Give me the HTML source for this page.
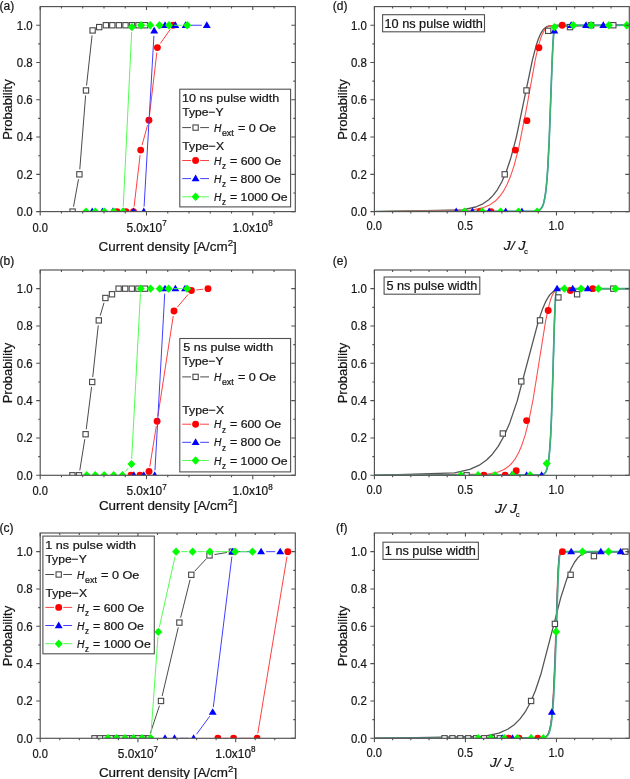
<!DOCTYPE html><html><head><meta charset="utf-8"><title>Switching probability</title><style>
html,body{margin:0;padding:0;background:#fff;}svg{display:block;will-change:transform;}
text{font-family:'Liberation Sans', sans-serif;fill:#151515;stroke:#151515;stroke-width:0.22px;}
</style></head><body>
<svg width="630" height="779" viewBox="0 0 630 779">
<rect width="630" height="779" fill="#fff"/>
<defs>
<clipPath id="ca"><rect x="40.2" y="6.1" width="255.1" height="205.5"/></clipPath>
<clipPath id="cb"><rect x="40.2" y="269.5" width="255.1" height="205.8"/></clipPath>
<clipPath id="cc"><rect x="40.2" y="532.5" width="255.1" height="205.8"/></clipPath>
<clipPath id="cd"><rect x="374.4" y="6.1" width="254.9" height="205.5"/></clipPath>
<clipPath id="ce"><rect x="374.4" y="269.5" width="254.9" height="205.8"/></clipPath>
<clipPath id="cf"><rect x="374.4" y="532.5" width="254.9" height="205.8"/></clipPath>
</defs>
<g clip-path="url(#ca)">
<path d="M73.5 206.68L78.5 179.25M79.79 169.34L85.61 95.45M86.55 85.49L92.05 35.42" stroke="#4a4a4a" stroke-width="1.0" fill="none"/><rect x="69.95" y="208.95" width="5.3" height="5.3" fill="#fff" stroke="#474747" stroke-width="1.1"/><rect x="76.75" y="171.68" width="5.3" height="5.3" fill="#fff" stroke="#474747" stroke-width="1.1"/><rect x="83.35" y="87.81" width="5.3" height="5.3" fill="#fff" stroke="#474747" stroke-width="1.1"/><rect x="89.95" y="27.8" width="5.3" height="5.3" fill="#fff" stroke="#474747" stroke-width="1.1"/><rect x="96.55" y="24.45" width="5.3" height="5.3" fill="#fff" stroke="#474747" stroke-width="1.1"/><rect x="103.25" y="22.59" width="5.3" height="5.3" fill="#fff" stroke="#474747" stroke-width="1.1"/><rect x="109.65" y="22.59" width="5.3" height="5.3" fill="#fff" stroke="#474747" stroke-width="1.1"/><rect x="116.25" y="22.59" width="5.3" height="5.3" fill="#fff" stroke="#474747" stroke-width="1.1"/><rect x="122.85" y="22.59" width="5.3" height="5.3" fill="#fff" stroke="#474747" stroke-width="1.1"/><rect x="129.35" y="22.59" width="5.3" height="5.3" fill="#fff" stroke="#474747" stroke-width="1.1"/><rect x="135.85" y="22.59" width="5.3" height="5.3" fill="#fff" stroke="#474747" stroke-width="1.1"/><rect x="142.35" y="22.59" width="5.3" height="5.3" fill="#fff" stroke="#474747" stroke-width="1.1"/>
<path d="M134.08 206.63L140.12 155.07M142.03 145.28L147.57 125.1M149.48 115.32L156.82 52.57M160.29 43.52L170.31 29.32" stroke="#ff4040" stroke-width="1.0" fill="none"/><circle cx="117" cy="211.6" r="3.45" fill="#ff0000"/><circle cx="126" cy="211.6" r="3.45" fill="#ff0000"/><circle cx="133.5" cy="211.6" r="3.45" fill="#ff0000"/><circle cx="140.7" cy="150.1" r="3.45" fill="#ff0000"/><circle cx="148.9" cy="120.28" r="3.45" fill="#ff0000"/><circle cx="157.4" cy="47.6" r="3.45" fill="#ff0000"/><circle cx="173.2" cy="25.24" r="3.45" fill="#ff0000"/>
<path d="M144.09 206.61L153.91 35.82M158.64 28.53L160.56 27.54M190.6 25.24L201.8 25.24" stroke="#4040ff" stroke-width="1.0" fill="none"/><path d="M92.2 207.6L96.15 214.3L88.25 214.3Z" fill="#0000ff"/><path d="M102.5 207.6L106.45 214.3L98.55 214.3Z" fill="#0000ff"/><path d="M112.8 207.6L116.75 214.3L108.85 214.3Z" fill="#0000ff"/><path d="M123.1 207.6L127.05 214.3L119.15 214.3Z" fill="#0000ff"/><path d="M133.5 207.6L137.45 214.3L129.55 214.3Z" fill="#0000ff"/><path d="M143.8 207.6L147.75 214.3L139.85 214.3Z" fill="#0000ff"/><path d="M154.2 26.83L158.15 33.53L150.25 33.53Z" fill="#0000ff"/><path d="M165 21.24L168.95 27.94L161.05 27.94Z" fill="#0000ff"/><path d="M175.3 21.24L179.25 27.94L171.35 27.94Z" fill="#0000ff"/><path d="M185.6 21.24L189.55 27.94L181.65 27.94Z" fill="#0000ff"/><path d="M206.8 21.24L210.75 27.94L202.85 27.94Z" fill="#0000ff"/>
<path d="M123.24 206.61L131.66 32.09M174 25.24L182.2 25.24" stroke="#50ff50" stroke-width="1.0" fill="none"/><path d="M86 207.4L90.05 211.6L86 215.8L81.95 211.6Z" fill="#00ff00"/><path d="M95.3 207.4L99.35 211.6L95.3 215.8L91.25 211.6Z" fill="#00ff00"/><path d="M104.4 207.4L108.45 211.6L104.4 215.8L100.35 211.6Z" fill="#00ff00"/><path d="M113.8 207.4L117.85 211.6L113.8 215.8L109.75 211.6Z" fill="#00ff00"/><path d="M123 207.4L127.05 211.6L123 215.8L118.95 211.6Z" fill="#00ff00"/><path d="M131.9 22.9L135.95 27.1L131.9 31.3L127.85 27.1Z" fill="#00ff00"/><path d="M141.1 21.04L145.15 25.24L141.1 29.44L137.05 25.24Z" fill="#00ff00"/><path d="M150.2 21.04L154.25 25.24L150.2 29.44L146.15 25.24Z" fill="#00ff00"/><path d="M159.5 21.04L163.55 25.24L159.5 29.44L155.45 25.24Z" fill="#00ff00"/><path d="M169 21.04L173.05 25.24L169 29.44L164.95 25.24Z" fill="#00ff00"/><path d="M187.2 21.04L191.25 25.24L187.2 29.44L183.15 25.24Z" fill="#00ff00"/>
</g>
<rect x="40.2" y="6.6" width="255.1" height="205" fill="none" stroke="#505050" stroke-width="1.15"/>
<path d="M36.2 211.6H40.2M291.3 211.6H295.3M36.2 174.33H40.2M291.3 174.33H295.3M36.2 137.05H40.2M291.3 137.05H295.3M36.2 99.78H40.2M291.3 99.78H295.3M36.2 62.51H40.2M291.3 62.51H295.3M36.2 25.24H40.2M291.3 25.24H295.3M38.2 192.96H40.2M293.3 192.96H295.3M38.2 155.69H40.2M293.3 155.69H295.3M38.2 118.42H40.2M293.3 118.42H295.3M38.2 81.15H40.2M293.3 81.15H295.3M38.2 43.87H40.2M293.3 43.87H295.3M40.2 211.6V215.6M40.2 6.6V10.1M146.49 211.6V215.6M146.49 6.6V10.1M252.78 211.6V215.6M252.78 6.6V10.1M61.46 211.6V213.6M61.46 6.6V8.6M82.72 211.6V213.6M82.72 6.6V8.6M103.98 211.6V213.6M103.98 6.6V8.6M125.23 211.6V213.6M125.23 6.6V8.6M167.75 211.6V213.6M167.75 6.6V8.6M189.01 211.6V213.6M189.01 6.6V8.6M210.27 211.6V213.6M210.27 6.6V8.6M231.53 211.6V213.6M231.53 6.6V8.6M274.04 211.6V213.6M274.04 6.6V8.6" stroke="#505050" stroke-width="1.1" fill="none"/>
<text x="16.8" y="215.9" font-size="12.8" textLength="15.92" lengthAdjust="spacingAndGlyphs" style="">0.0</text>
<text x="16.8" y="178.63" font-size="12.8" textLength="15.92" lengthAdjust="spacingAndGlyphs" style="">0.2</text>
<text x="16.8" y="141.35" font-size="12.8" textLength="15.92" lengthAdjust="spacingAndGlyphs" style="">0.4</text>
<text x="16.8" y="104.08" font-size="12.8" textLength="15.92" lengthAdjust="spacingAndGlyphs" style="">0.6</text>
<text x="16.8" y="66.81" font-size="12.8" textLength="15.92" lengthAdjust="spacingAndGlyphs" style="">0.8</text>
<text x="16.81" y="29.54" font-size="12.8" textLength="15.91" lengthAdjust="spacingAndGlyphs" style="">1.0</text>
<text x="32.4" y="231.5" font-size="12.8" textLength="15.42" lengthAdjust="spacingAndGlyphs" style="">0.0</text>
<text x="126.39" y="231.5" font-size="12.5" textLength="40.25" lengthAdjust="spacingAndGlyphs" style="">5.0x10<tspan dy="-5.2" font-size="8.5">7</tspan></text>
<text x="232.43" y="231.5" font-size="12.5" textLength="40.2" lengthAdjust="spacingAndGlyphs" style="">1.0x10<tspan dy="-5.2" font-size="8.5">8</tspan></text>
<text x="98.6" y="251" font-size="12.5" textLength="138.24" lengthAdjust="spacingAndGlyphs" style="">Current density [A/cm<tspan dy="-5" font-size="9">2</tspan><tspan dy="5">]</tspan></text>
<text transform="translate(12.3 0) rotate(-90)" x="-139.74" y="0" font-size="12.5" textLength="60.42" lengthAdjust="spacingAndGlyphs" style="">Probability</text>
<g clip-path="url(#cb)">
<path d="M79.79 470.36L84.81 439.18M86.23 429.28L91.57 386.94M92.73 377.01L98.27 325.36M100.21 315.6L103.99 302.79" stroke="#4a4a4a" stroke-width="1.0" fill="none"/><rect x="69.75" y="472.65" width="5.3" height="5.3" fill="#fff" stroke="#474747" stroke-width="1.1"/><rect x="76.35" y="472.65" width="5.3" height="5.3" fill="#fff" stroke="#474747" stroke-width="1.1"/><rect x="82.95" y="431.59" width="5.3" height="5.3" fill="#fff" stroke="#474747" stroke-width="1.1"/><rect x="89.55" y="379.33" width="5.3" height="5.3" fill="#fff" stroke="#474747" stroke-width="1.1"/><rect x="96.15" y="317.74" width="5.3" height="5.3" fill="#fff" stroke="#474747" stroke-width="1.1"/><rect x="102.75" y="295.35" width="5.3" height="5.3" fill="#fff" stroke="#474747" stroke-width="1.1"/><rect x="109.35" y="291.61" width="5.3" height="5.3" fill="#fff" stroke="#474747" stroke-width="1.1"/><rect x="115.95" y="286.01" width="5.3" height="5.3" fill="#fff" stroke="#474747" stroke-width="1.1"/><rect x="122.55" y="286.01" width="5.3" height="5.3" fill="#fff" stroke="#474747" stroke-width="1.1"/><rect x="129.15" y="286.01" width="5.3" height="5.3" fill="#fff" stroke="#474747" stroke-width="1.1"/><rect x="135.75" y="286.01" width="5.3" height="5.3" fill="#fff" stroke="#474747" stroke-width="1.1"/><rect x="142.35" y="286.01" width="5.3" height="5.3" fill="#fff" stroke="#474747" stroke-width="1.1"/>
<path d="M149.79 466.63L156.31 426.11M157.86 416.23L173.24 316M177.23 307.25L188.17 294.34M196.37 289.97L203.03 289.22" stroke="#ff4040" stroke-width="1.0" fill="none"/><circle cx="131" cy="475.3" r="3.45" fill="#ff0000"/><circle cx="140" cy="475.3" r="3.45" fill="#ff0000"/><circle cx="149" cy="471.57" r="3.45" fill="#ff0000"/><circle cx="157.1" cy="421.18" r="3.45" fill="#ff0000"/><circle cx="174" cy="311.06" r="3.45" fill="#ff0000"/><circle cx="191.4" cy="290.53" r="3.45" fill="#ff0000"/><circle cx="208" cy="288.66" r="3.45" fill="#ff0000"/>
<path d="M148.8 475.3L149.7 475.3M154.98 470.31L164.72 293.66" stroke="#4040ff" stroke-width="1.0" fill="none"/><path d="M133.9 471.3L137.85 478L129.95 478Z" fill="#0000ff"/><path d="M143.8 471.3L147.75 478L139.85 478Z" fill="#0000ff"/><path d="M154.7 471.3L158.65 478L150.75 478Z" fill="#0000ff"/><path d="M165 284.66L168.95 291.36L161.05 291.36Z" fill="#0000ff"/><path d="M175.4 284.66L179.35 291.36L171.45 291.36Z" fill="#0000ff"/><path d="M185 284.66L188.95 291.36L181.05 291.36Z" fill="#0000ff"/>
<path d="M125.61 471.39L128.29 468.02M131.66 459.11L140.44 293.66M173.6 288.66L182.1 288.66" stroke="#50ff50" stroke-width="1.0" fill="none"/><path d="M86.7 471.1L90.75 475.3L86.7 479.5L82.65 475.3Z" fill="#00ff00"/><path d="M95.2 471.1L99.25 475.3L95.2 479.5L91.15 475.3Z" fill="#00ff00"/><path d="M104.2 471.1L108.25 475.3L104.2 479.5L100.15 475.3Z" fill="#00ff00"/><path d="M113.7 471.1L117.75 475.3L113.7 479.5L109.65 475.3Z" fill="#00ff00"/><path d="M122.5 471.1L126.55 475.3L122.5 479.5L118.45 475.3Z" fill="#00ff00"/><path d="M131.4 459.9L135.45 464.1L131.4 468.3L127.35 464.1Z" fill="#00ff00"/><path d="M140.7 284.46L144.75 288.66L140.7 292.86L136.65 288.66Z" fill="#00ff00"/><path d="M150.5 284.46L154.55 288.66L150.5 292.86L146.45 288.66Z" fill="#00ff00"/><path d="M159.7 284.46L163.75 288.66L159.7 292.86L155.65 288.66Z" fill="#00ff00"/><path d="M168.6 284.46L172.65 288.66L168.6 292.86L164.55 288.66Z" fill="#00ff00"/><path d="M187.1 284.46L191.15 288.66L187.1 292.86L183.05 288.66Z" fill="#00ff00"/>
</g>
<rect x="40.2" y="270" width="255.1" height="205.3" fill="none" stroke="#505050" stroke-width="1.15"/>
<path d="M36.2 475.3H40.2M291.3 475.3H295.3M36.2 437.97H40.2M291.3 437.97H295.3M36.2 400.65H40.2M291.3 400.65H295.3M36.2 363.32H40.2M291.3 363.32H295.3M36.2 325.99H40.2M291.3 325.99H295.3M36.2 288.66H40.2M291.3 288.66H295.3M38.2 456.64H40.2M293.3 456.64H295.3M38.2 419.31H40.2M293.3 419.31H295.3M38.2 381.98H40.2M293.3 381.98H295.3M38.2 344.65H40.2M293.3 344.65H295.3M38.2 307.33H40.2M293.3 307.33H295.3M40.2 475.3V479.3M40.2 270V273.5M146.49 475.3V479.3M146.49 270V273.5M252.78 475.3V479.3M252.78 270V273.5M61.46 475.3V477.3M61.46 270V272M82.72 475.3V477.3M82.72 270V272M103.98 475.3V477.3M103.98 270V272M125.23 475.3V477.3M125.23 270V272M167.75 475.3V477.3M167.75 270V272M189.01 475.3V477.3M189.01 270V272M210.27 475.3V477.3M210.27 270V272M231.53 475.3V477.3M231.53 270V272M274.04 475.3V477.3M274.04 270V272" stroke="#505050" stroke-width="1.1" fill="none"/>
<text x="16.8" y="479.6" font-size="12.8" textLength="15.92" lengthAdjust="spacingAndGlyphs" style="">0.0</text>
<text x="16.8" y="442.27" font-size="12.8" textLength="15.92" lengthAdjust="spacingAndGlyphs" style="">0.2</text>
<text x="16.8" y="404.95" font-size="12.8" textLength="15.92" lengthAdjust="spacingAndGlyphs" style="">0.4</text>
<text x="16.8" y="367.62" font-size="12.8" textLength="15.92" lengthAdjust="spacingAndGlyphs" style="">0.6</text>
<text x="16.8" y="330.29" font-size="12.8" textLength="15.92" lengthAdjust="spacingAndGlyphs" style="">0.8</text>
<text x="16.81" y="292.96" font-size="12.8" textLength="15.91" lengthAdjust="spacingAndGlyphs" style="">1.0</text>
<text x="32.4" y="494.8" font-size="12.8" textLength="15.42" lengthAdjust="spacingAndGlyphs" style="">0.0</text>
<text x="126.39" y="494.8" font-size="12.5" textLength="40.25" lengthAdjust="spacingAndGlyphs" style="">5.0x10<tspan dy="-5.2" font-size="8.5">7</tspan></text>
<text x="232.43" y="494.8" font-size="12.5" textLength="40.2" lengthAdjust="spacingAndGlyphs" style="">1.0x10<tspan dy="-5.2" font-size="8.5">8</tspan></text>
<text x="98.9" y="510.1" font-size="12.5" textLength="138.24" lengthAdjust="spacingAndGlyphs" style="">Current density [A/cm<tspan dy="-5" font-size="9">2</tspan><tspan dy="5">]</tspan></text>
<text transform="translate(12.3 0) rotate(-90)" x="-403.29" y="0" font-size="12.5" textLength="60.42" lengthAdjust="spacingAndGlyphs" style="">Probability</text>
<g clip-path="url(#cc)">
<path d="M150.26 733.55L159.44 705.72M162.14 696.11L178.26 627.45M180.61 617.73L190.09 579.66M194.72 571.16L206.08 559.04M214.43 554.57L226.97 552.49" stroke="#4a4a4a" stroke-width="1.0" fill="none"/><rect x="91.85" y="735.65" width="5.3" height="5.3" fill="#fff" stroke="#474747" stroke-width="1.1"/><rect x="97.25" y="735.65" width="5.3" height="5.3" fill="#fff" stroke="#474747" stroke-width="1.1"/><rect x="102.65" y="735.65" width="5.3" height="5.3" fill="#fff" stroke="#474747" stroke-width="1.1"/><rect x="108.05" y="735.65" width="5.3" height="5.3" fill="#fff" stroke="#474747" stroke-width="1.1"/><rect x="113.45" y="735.65" width="5.3" height="5.3" fill="#fff" stroke="#474747" stroke-width="1.1"/><rect x="118.85" y="735.65" width="5.3" height="5.3" fill="#fff" stroke="#474747" stroke-width="1.1"/><rect x="124.35" y="735.65" width="5.3" height="5.3" fill="#fff" stroke="#474747" stroke-width="1.1"/><rect x="129.75" y="735.65" width="5.3" height="5.3" fill="#fff" stroke="#474747" stroke-width="1.1"/><rect x="135.15" y="735.65" width="5.3" height="5.3" fill="#fff" stroke="#474747" stroke-width="1.1"/><rect x="140.55" y="735.65" width="5.3" height="5.3" fill="#fff" stroke="#474747" stroke-width="1.1"/><rect x="146.05" y="735.65" width="5.3" height="5.3" fill="#fff" stroke="#474747" stroke-width="1.1"/><rect x="158.35" y="698.32" width="5.3" height="5.3" fill="#fff" stroke="#474747" stroke-width="1.1"/><rect x="176.75" y="619.94" width="5.3" height="5.3" fill="#fff" stroke="#474747" stroke-width="1.1"/><rect x="188.65" y="572.16" width="5.3" height="5.3" fill="#fff" stroke="#474747" stroke-width="1.1"/><rect x="206.85" y="552.75" width="5.3" height="5.3" fill="#fff" stroke="#474747" stroke-width="1.1"/><rect x="229.25" y="549.01" width="5.3" height="5.3" fill="#fff" stroke="#474747" stroke-width="1.1"/>
<path d="M222.9 738.3L228.6 738.3M238.6 738.3L252 738.3M257.81 733.37L286.99 556.6" stroke="#ff4040" stroke-width="1.0" fill="none"/><circle cx="217.9" cy="738.3" r="3.45" fill="#ff0000"/><circle cx="233.6" cy="738.3" r="3.45" fill="#ff0000"/><circle cx="257" cy="738.3" r="3.45" fill="#ff0000"/><circle cx="287.8" cy="551.66" r="3.45" fill="#ff0000"/>
<path d="M179.5 738.3L188.6 738.3M196.55 734.26L209.75 716.21M213.31 707.21L231.89 556.63M237.5 551.66L256.1 551.66M266.1 551.66L275.2 551.66" stroke="#4040ff" stroke-width="1.0" fill="none"/><path d="M165 734.3L168.95 741L161.05 741Z" fill="#0000ff"/><path d="M174.5 734.3L178.45 741L170.55 741Z" fill="#0000ff"/><path d="M193.6 734.3L197.55 741L189.65 741Z" fill="#0000ff"/><path d="M212.7 708.17L216.65 714.87L208.75 714.87Z" fill="#0000ff"/><path d="M232.5 547.66L236.45 554.36L228.55 554.36Z" fill="#0000ff"/><path d="M261.1 547.66L265.05 554.36L257.15 554.36Z" fill="#0000ff"/><path d="M280.2 547.66L284.15 554.36L276.25 554.36Z" fill="#0000ff"/>
<path d="M151.06 733.31L157.94 636.9M159.38 627.04L175.02 556.55M181.1 551.66L187.6 551.66M197.6 551.66L204.8 551.66M214.8 551.66L230.2 551.66M240.2 551.66L247.4 551.66" stroke="#50ff50" stroke-width="1.0" fill="none"/><path d="M107.9 734.1L111.95 738.3L107.9 742.5L103.85 738.3Z" fill="#00ff00"/><path d="M116.4 734.1L120.45 738.3L116.4 742.5L112.35 738.3Z" fill="#00ff00"/><path d="M125 734.1L129.05 738.3L125 742.5L120.95 738.3Z" fill="#00ff00"/><path d="M133.6 734.1L137.65 738.3L133.6 742.5L129.55 738.3Z" fill="#00ff00"/><path d="M142.1 734.1L146.15 738.3L142.1 742.5L138.05 738.3Z" fill="#00ff00"/><path d="M150.7 734.1L154.75 738.3L150.7 742.5L146.65 738.3Z" fill="#00ff00"/><path d="M158.3 627.72L162.35 631.92L158.3 636.12L154.25 631.92Z" fill="#00ff00"/><path d="M176.1 547.46L180.15 551.66L176.1 555.86L172.05 551.66Z" fill="#00ff00"/><path d="M192.6 547.46L196.65 551.66L192.6 555.86L188.55 551.66Z" fill="#00ff00"/><path d="M209.8 547.46L213.85 551.66L209.8 555.86L205.75 551.66Z" fill="#00ff00"/><path d="M235.2 547.46L239.25 551.66L235.2 555.86L231.15 551.66Z" fill="#00ff00"/><path d="M252.4 547.46L256.45 551.66L252.4 555.86L248.35 551.66Z" fill="#00ff00"/>
</g>
<rect x="40.2" y="533" width="255.1" height="205.3" fill="none" stroke="#505050" stroke-width="1.15"/>
<path d="M36.2 738.3H40.2M291.3 738.3H295.3M36.2 700.97H40.2M291.3 700.97H295.3M36.2 663.65H40.2M291.3 663.65H295.3M36.2 626.32H40.2M291.3 626.32H295.3M36.2 588.99H40.2M291.3 588.99H295.3M36.2 551.66H40.2M291.3 551.66H295.3M38.2 719.64H40.2M293.3 719.64H295.3M38.2 682.31H40.2M293.3 682.31H295.3M38.2 644.98H40.2M293.3 644.98H295.3M38.2 607.65H40.2M293.3 607.65H295.3M38.2 570.33H40.2M293.3 570.33H295.3M40.2 738.3V742.3M40.2 533V536.5M137.94 738.3V742.3M137.94 533V536.5M235.68 738.3V742.3M235.68 533V536.5M59.75 738.3V740.3M59.75 533V535M79.3 738.3V740.3M79.3 533V535M98.84 738.3V740.3M98.84 533V535M118.39 738.3V740.3M118.39 533V535M157.49 738.3V740.3M157.49 533V535M177.04 738.3V740.3M177.04 533V535M196.58 738.3V740.3M196.58 533V535M216.13 738.3V740.3M216.13 533V535M255.23 738.3V740.3M255.23 533V535M274.77 738.3V740.3M274.77 533V535" stroke="#505050" stroke-width="1.1" fill="none"/>
<text x="16.8" y="742.6" font-size="12.8" textLength="15.92" lengthAdjust="spacingAndGlyphs" style="">0.0</text>
<text x="16.8" y="705.27" font-size="12.8" textLength="15.92" lengthAdjust="spacingAndGlyphs" style="">0.2</text>
<text x="16.8" y="667.95" font-size="12.8" textLength="15.92" lengthAdjust="spacingAndGlyphs" style="">0.4</text>
<text x="16.8" y="630.62" font-size="12.8" textLength="15.92" lengthAdjust="spacingAndGlyphs" style="">0.6</text>
<text x="16.8" y="593.29" font-size="12.8" textLength="15.92" lengthAdjust="spacingAndGlyphs" style="">0.8</text>
<text x="16.81" y="555.96" font-size="12.8" textLength="15.91" lengthAdjust="spacingAndGlyphs" style="">1.0</text>
<text x="32.4" y="757.6" font-size="12.8" textLength="15.42" lengthAdjust="spacingAndGlyphs" style="">0.0</text>
<text x="117.84" y="757.6" font-size="12.5" textLength="40.25" lengthAdjust="spacingAndGlyphs" style="">5.0x10<tspan dy="-5.2" font-size="8.5">7</tspan></text>
<text x="215.33" y="757.6" font-size="12.5" textLength="40.2" lengthAdjust="spacingAndGlyphs" style="">1.0x10<tspan dy="-5.2" font-size="8.5">8</tspan></text>
<text x="98.9" y="776.6" font-size="12.5" textLength="138.24" lengthAdjust="spacingAndGlyphs" style="">Current density [A/cm<tspan dy="-5" font-size="9">2</tspan><tspan dy="5">]</tspan></text>
<text transform="translate(12.3 0) rotate(-90)" x="-666.29" y="0" font-size="12.5" textLength="60.42" lengthAdjust="spacingAndGlyphs" style="">Probability</text>
<g clip-path="url(#cd)">
<path d="M374.4 211.6L462.52 209.85L475.63 207.01L482.91 203.79L488.74 199.71L493.11 195.37L497.48 189.54L501.85 181.8L506.22 171.7L510.59 158.81L516.42 136.81L532.44 59.87L536.08 45.79L538.26 39.18L540.45 34.08L542.63 30.41L544.09 28.67L546.28 26.94L548.46 25.98L629.3 25.24" stroke="#555555" stroke-width="1.3" fill="none" stroke-linejoin="round"/>
<path d="M374.4 211.6L471.99 210.07L483.64 207.55L490.2 204.63L495.3 201.01L499.67 196.5L503.31 191.4L506.95 184.71L510.59 176.06L514.23 165.05L518.6 148.32L526.61 107.87L535.35 59.45L538.26 46.61L540.45 39.05L542.63 33.42L544.09 30.68L545.55 28.67L547 27.28L548.46 26.37L550.65 25.64L629.3 25.24" stroke="#ff5050" stroke-width="1.1" fill="none" stroke-linejoin="round"/>
<path d="M374.4 211.6L535.35 211.32L538.26 210.67L539.72 209.89L541.18 208.48L541.91 207.38L542.63 205.91L543.36 203.93L544.09 201.28L544.82 197.75L545.55 193.09L546.28 186.96L547 179.02L547.73 168.87L549.19 140.75L552.1 62.35L552.83 46.15L553.56 34.85L554.29 28.59L555.01 26.04L555.74 25.35L629.3 25.24" stroke="#4040ff" stroke-width="1.3" fill="none" stroke-linejoin="round"/>
<path d="M374.4 211.6L535.35 211.32L538.26 210.67L539.72 209.89L541.18 208.48L541.91 207.38L542.63 205.91L543.36 203.93L544.09 201.28L544.82 197.75L545.55 193.09L546.28 186.96L547 179.02L547.73 168.87L549.19 140.75L552.1 62.35L552.83 46.15L553.56 34.85L554.29 28.59L555.01 26.04L555.74 25.35L629.3 25.24" stroke="#3cb371" stroke-width="1.7" fill="none" stroke-linejoin="round"/>
<rect x="502.05" y="171.68" width="5.3" height="5.3" fill="#fff" stroke="#474747" stroke-width="1.1"/><rect x="523.85" y="87.81" width="5.3" height="5.3" fill="#fff" stroke="#474747" stroke-width="1.1"/><rect x="545.55" y="28.18" width="5.3" height="5.3" fill="#fff" stroke="#474747" stroke-width="1.1"/><rect x="567.35" y="24.45" width="5.3" height="5.3" fill="#fff" stroke="#474747" stroke-width="1.1"/><rect x="588.45" y="22.59" width="5.3" height="5.3" fill="#fff" stroke="#474747" stroke-width="1.1"/><rect x="610.65" y="22.59" width="5.3" height="5.3" fill="#fff" stroke="#474747" stroke-width="1.1"/>
<circle cx="480" cy="211.6" r="3.45" fill="#ff0000"/><circle cx="491" cy="211.6" r="3.45" fill="#ff0000"/><circle cx="515.3" cy="150.1" r="3.45" fill="#ff0000"/><circle cx="526.9" cy="120.65" r="3.45" fill="#ff0000"/><circle cx="538.9" cy="47.79" r="3.45" fill="#ff0000"/><circle cx="562.2" cy="25.24" r="3.45" fill="#ff0000"/>
<path d="M456.2 207.6L460.15 214.3L452.25 214.3Z" fill="#0000ff"/><path d="M472.4 207.6L476.35 214.3L468.45 214.3Z" fill="#0000ff"/><path d="M489.1 207.6L493.05 214.3L485.15 214.3Z" fill="#0000ff"/><path d="M505.7 207.6L509.65 214.3L501.75 214.3Z" fill="#0000ff"/><path d="M521.9 207.6L525.85 214.3L517.95 214.3Z" fill="#0000ff"/><path d="M554.4 26.83L558.35 33.53L550.45 33.53Z" fill="#0000ff"/><path d="M571.1 21.24L575.05 27.94L567.15 27.94Z" fill="#0000ff"/><path d="M586 21.24L589.95 27.94L582.05 27.94Z" fill="#0000ff"/><path d="M603.3 21.24L607.25 27.94L599.35 27.94Z" fill="#0000ff"/>
<path d="M464.4 207.4L468.45 211.6L464.4 215.8L460.35 211.6Z" fill="#00ff00"/><path d="M482.3 207.4L486.35 211.6L482.3 215.8L478.25 211.6Z" fill="#00ff00"/><path d="M500.6 207.4L504.65 211.6L500.6 215.8L496.55 211.6Z" fill="#00ff00"/><path d="M518.5 207.4L522.55 211.6L518.5 215.8L514.45 211.6Z" fill="#00ff00"/><path d="M537.1 207.4L541.15 211.6L537.1 215.8L533.05 211.6Z" fill="#00ff00"/><path d="M554.4 22.9L558.45 27.1L554.4 31.3L550.35 27.1Z" fill="#00ff00"/><path d="M573.3 21.04L577.35 25.24L573.3 29.44L569.25 25.24Z" fill="#00ff00"/><path d="M591.1 21.04L595.15 25.24L591.1 29.44L587.05 25.24Z" fill="#00ff00"/><path d="M608.9 21.04L612.95 25.24L608.9 29.44L604.85 25.24Z" fill="#00ff00"/><path d="M626.7 21.04L630.75 25.24L626.7 29.44L622.65 25.24Z" fill="#00ff00"/>
</g>
<rect x="374.4" y="6.6" width="254.9" height="205" fill="none" stroke="#505050" stroke-width="1.15"/>
<path d="M370.4 211.6H374.4M625.3 211.6H629.3M370.4 174.33H374.4M625.3 174.33H629.3M370.4 137.05H374.4M625.3 137.05H629.3M370.4 99.78H374.4M625.3 99.78H629.3M370.4 62.51H374.4M625.3 62.51H629.3M370.4 25.24H374.4M625.3 25.24H629.3M372.4 192.96H374.4M627.3 192.96H629.3M372.4 155.69H374.4M627.3 155.69H629.3M372.4 118.42H374.4M627.3 118.42H629.3M372.4 81.15H374.4M627.3 81.15H629.3M372.4 43.87H374.4M627.3 43.87H629.3M374.4 211.6V215.6M374.4 6.6V10.1M465.44 211.6V215.6M465.44 6.6V10.1M556.47 211.6V215.6M556.47 6.6V10.1M392.61 211.6V213.6M392.61 6.6V8.6M410.81 211.6V213.6M410.81 6.6V8.6M429.02 211.6V213.6M429.02 6.6V8.6M447.23 211.6V213.6M447.23 6.6V8.6M483.64 211.6V213.6M483.64 6.6V8.6M501.85 211.6V213.6M501.85 6.6V8.6M520.06 211.6V213.6M520.06 6.6V8.6M538.26 211.6V213.6M538.26 6.6V8.6M574.68 211.6V213.6M574.68 6.6V8.6M592.89 211.6V213.6M592.89 6.6V8.6M611.09 211.6V213.6M611.09 6.6V8.6" stroke="#505050" stroke-width="1.1" fill="none"/>
<text x="351" y="215.9" font-size="12.8" textLength="15.92" lengthAdjust="spacingAndGlyphs" style="">0.0</text>
<text x="351" y="178.63" font-size="12.8" textLength="15.92" lengthAdjust="spacingAndGlyphs" style="">0.2</text>
<text x="351" y="141.35" font-size="12.8" textLength="15.92" lengthAdjust="spacingAndGlyphs" style="">0.4</text>
<text x="351" y="104.08" font-size="12.8" textLength="15.92" lengthAdjust="spacingAndGlyphs" style="">0.6</text>
<text x="351" y="66.81" font-size="12.8" textLength="15.92" lengthAdjust="spacingAndGlyphs" style="">0.8</text>
<text x="351.01" y="29.54" font-size="12.8" textLength="15.91" lengthAdjust="spacingAndGlyphs" style="">1.0</text>
<text x="366.6" y="230.2" font-size="12.8" textLength="15.42" lengthAdjust="spacingAndGlyphs" style="">0.0</text>
<text x="457.44" y="230.2" font-size="12.8" textLength="15.62" lengthAdjust="spacingAndGlyphs" style="">0.5</text>
<text x="548.41" y="230.2" font-size="12.8" textLength="15.39" lengthAdjust="spacingAndGlyphs" style="">1.0</text>
<text x="503.8" y="250.1" font-size="12.5" textLength="21.5" lengthAdjust="spacingAndGlyphs" style="font-style:italic">J/ J</text>
<text x="524" y="254" font-size="7.6" textLength="3.89" lengthAdjust="spacingAndGlyphs" style="">c</text>
<text transform="translate(346.5 0) rotate(-90)" x="-139.74" y="0" font-size="12.5" textLength="60.42" lengthAdjust="spacingAndGlyphs" style="">Probability</text>
<rect x="382.6" y="14.7" width="101.9" height="17.1" fill="#fff" stroke="#505050" stroke-width="1.1"/>
<text x="384.46" y="27.6" font-size="12.2" textLength="98.34" lengthAdjust="spacingAndGlyphs" style="">10 ns pulse width</text>
<g clip-path="url(#ce)">
<path d="M374.4 475.28L454.51 472.85L469.81 469.39L479.27 465.16L486.56 460.03L492.38 454.22L498.21 446.4L504.03 436.05L509.86 422.64L517.14 401.13L538.26 321.68L542.63 308.65L545.55 301.89L548.46 296.77L550.65 293.96L552.83 291.93L555.74 290.21L556.47 288.66L629.3 288.66" stroke="#555555" stroke-width="1.3" fill="none" stroke-linejoin="round"/>
<path d="M374.4 475.3L488.01 474.06L498.21 471.99L504.03 469.52L508.4 466.56L512.05 462.99L515.69 458.05L518.6 452.78L521.51 446.06L525.16 435.15L528.8 420.91L533.17 399.01L545.55 321.45L548.46 307.28L550.65 299.49L552.1 295.71L553.56 292.95L555.01 291.09L555.74 290.43L556.47 288.66L629.3 288.66" stroke="#ff5050" stroke-width="1.1" fill="none" stroke-linejoin="round"/>
<path d="M374.4 475.3L540.45 475.08L542.63 474.62L544.09 473.85L544.82 473.18L545.55 472.2L546.28 470.79L547 468.74L547.73 465.79L548.46 461.56L549.19 455.55L549.92 447.14L550.65 435.6L551.37 420.22L552.83 377.01L554.29 326.38L555.01 306.67L555.74 294.77L556.47 288.66L629.3 288.66" stroke="#4040ff" stroke-width="1.3" fill="none" stroke-linejoin="round"/>
<path d="M374.4 475.3L540.45 475.08L542.63 474.62L544.09 473.85L544.82 473.18L545.55 472.2L546.28 470.79L547 468.74L547.73 465.79L548.46 461.56L549.19 455.55L549.92 447.14L550.65 435.6L551.37 420.22L552.83 377.01L554.29 326.38L555.01 306.67L555.74 294.77L556.47 288.66L629.3 288.66" stroke="#3cb371" stroke-width="1.7" fill="none" stroke-linejoin="round"/>
<rect x="463.95" y="472.65" width="5.3" height="5.3" fill="#fff" stroke="#474747" stroke-width="1.1"/><rect x="500.15" y="430.84" width="5.3" height="5.3" fill="#fff" stroke="#474747" stroke-width="1.1"/><rect x="518.65" y="378.77" width="5.3" height="5.3" fill="#fff" stroke="#474747" stroke-width="1.1"/><rect x="537.35" y="317.74" width="5.3" height="5.3" fill="#fff" stroke="#474747" stroke-width="1.1"/><rect x="555.75" y="294.79" width="5.3" height="5.3" fill="#fff" stroke="#474747" stroke-width="1.1"/><rect x="574.45" y="291.61" width="5.3" height="5.3" fill="#fff" stroke="#474747" stroke-width="1.1"/><rect x="610.65" y="286.01" width="5.3" height="5.3" fill="#fff" stroke="#474747" stroke-width="1.1"/>
<circle cx="483.9" cy="475.3" r="3.45" fill="#ff0000"/><circle cx="505.1" cy="475.3" r="3.45" fill="#ff0000"/><circle cx="516.2" cy="470.82" r="3.45" fill="#ff0000"/><circle cx="526.6" cy="420.62" r="3.45" fill="#ff0000"/><circle cx="548.2" cy="310.5" r="3.45" fill="#ff0000"/><circle cx="570.4" cy="290.53" r="3.45" fill="#ff0000"/><circle cx="592.7" cy="288.66" r="3.45" fill="#ff0000"/>
<path d="M511.6 471.3L515.55 478L507.65 478Z" fill="#0000ff"/><path d="M526.6 471.3L530.55 478L522.65 478Z" fill="#0000ff"/><path d="M541.6 471.3L545.55 478L537.65 478Z" fill="#0000ff"/><path d="M557.1 284.66L561.05 291.36L553.15 291.36Z" fill="#0000ff"/><path d="M572.7 284.66L576.65 291.36L568.75 291.36Z" fill="#0000ff"/><path d="M587.8 284.66L591.75 291.36L583.85 291.36Z" fill="#0000ff"/>
<path d="M460.8 471.1L464.85 475.3L460.8 479.5L456.75 475.3Z" fill="#00ff00"/><path d="M478.1 471.1L482.15 475.3L478.1 479.5L474.05 475.3Z" fill="#00ff00"/><path d="M495 471.1L499.05 475.3L495 479.5L490.95 475.3Z" fill="#00ff00"/><path d="M512.7 471.1L516.75 475.3L512.7 479.5L508.65 475.3Z" fill="#00ff00"/><path d="M530.1 471.1L534.15 475.3L530.1 479.5L526.05 475.3Z" fill="#00ff00"/><path d="M546.7 459.34L550.75 463.54L546.7 467.74L542.65 463.54Z" fill="#00ff00"/><path d="M564.4 284.46L568.45 288.66L564.4 292.86L560.35 288.66Z" fill="#00ff00"/><path d="M581.1 284.46L585.15 288.66L581.1 292.86L577.05 288.66Z" fill="#00ff00"/><path d="M598.4 284.46L602.45 288.66L598.4 292.86L594.35 288.66Z" fill="#00ff00"/><path d="M615.6 284.46L619.65 288.66L615.6 292.86L611.55 288.66Z" fill="#00ff00"/>
</g>
<rect x="374.4" y="270" width="254.9" height="205.3" fill="none" stroke="#505050" stroke-width="1.15"/>
<path d="M370.4 475.3H374.4M625.3 475.3H629.3M370.4 437.97H374.4M625.3 437.97H629.3M370.4 400.65H374.4M625.3 400.65H629.3M370.4 363.32H374.4M625.3 363.32H629.3M370.4 325.99H374.4M625.3 325.99H629.3M370.4 288.66H374.4M625.3 288.66H629.3M372.4 456.64H374.4M627.3 456.64H629.3M372.4 419.31H374.4M627.3 419.31H629.3M372.4 381.98H374.4M627.3 381.98H629.3M372.4 344.65H374.4M627.3 344.65H629.3M372.4 307.33H374.4M627.3 307.33H629.3M374.4 475.3V479.3M374.4 270V273.5M465.44 475.3V479.3M465.44 270V273.5M556.47 475.3V479.3M556.47 270V273.5M392.61 475.3V477.3M392.61 270V272M410.81 475.3V477.3M410.81 270V272M429.02 475.3V477.3M429.02 270V272M447.23 475.3V477.3M447.23 270V272M483.64 475.3V477.3M483.64 270V272M501.85 475.3V477.3M501.85 270V272M520.06 475.3V477.3M520.06 270V272M538.26 475.3V477.3M538.26 270V272M574.68 475.3V477.3M574.68 270V272M592.89 475.3V477.3M592.89 270V272M611.09 475.3V477.3M611.09 270V272" stroke="#505050" stroke-width="1.1" fill="none"/>
<text x="351" y="479.6" font-size="12.8" textLength="15.92" lengthAdjust="spacingAndGlyphs" style="">0.0</text>
<text x="351" y="442.27" font-size="12.8" textLength="15.92" lengthAdjust="spacingAndGlyphs" style="">0.2</text>
<text x="351" y="404.95" font-size="12.8" textLength="15.92" lengthAdjust="spacingAndGlyphs" style="">0.4</text>
<text x="351" y="367.62" font-size="12.8" textLength="15.92" lengthAdjust="spacingAndGlyphs" style="">0.6</text>
<text x="351" y="330.29" font-size="12.8" textLength="15.92" lengthAdjust="spacingAndGlyphs" style="">0.8</text>
<text x="351.01" y="292.96" font-size="12.8" textLength="15.91" lengthAdjust="spacingAndGlyphs" style="">1.0</text>
<text x="366.6" y="493.9" font-size="12.8" textLength="15.42" lengthAdjust="spacingAndGlyphs" style="">0.0</text>
<text x="457.44" y="493.9" font-size="12.8" textLength="15.62" lengthAdjust="spacingAndGlyphs" style="">0.5</text>
<text x="548.41" y="493.9" font-size="12.8" textLength="15.39" lengthAdjust="spacingAndGlyphs" style="">1.0</text>
<text x="495.1" y="513.2" font-size="12.5" textLength="21.88" lengthAdjust="spacingAndGlyphs" style="font-style:italic">J/ J</text>
<text x="515.7" y="517.1" font-size="7.6" textLength="3.89" lengthAdjust="spacingAndGlyphs" style="">c</text>
<text transform="translate(346.5 0) rotate(-90)" x="-403.29" y="0" font-size="12.5" textLength="60.42" lengthAdjust="spacingAndGlyphs" style="">Probability</text>
<rect x="384.1" y="277" width="95.7" height="17.2" fill="#fff" stroke="#505050" stroke-width="1.1"/>
<text x="386.4" y="289.6" font-size="12.2" textLength="90.92" lengthAdjust="spacingAndGlyphs" style="">5 ns pulse width</text>
<g clip-path="url(#cf)">
<path d="M374.4 738.3L483.64 736.31L498.94 733.06L507.68 729.23L514.23 724.69L520.06 718.88L525.16 711.94L530.25 702.75L535.35 690.8L541.18 673.21L560.84 597.38L566.67 579.37L571.04 568.71L574.68 562.01L577.59 558.09L580.5 555.35L583.42 553.59L587.79 552.25L629.3 551.66" stroke="#555555" stroke-width="1.3" fill="none" stroke-linejoin="round"/>
<path d="M374.4 738.3L541.91 738.02L544.09 737.54L545.55 736.82L546.28 736.24L547 735.43L547.73 734.31L548.46 732.75L549.19 730.6L549.92 727.64L550.65 723.59L551.37 718.1L552.1 710.72L552.83 700.97L553.56 688.36L555.01 653.43L557.2 587.55L557.93 570.36L558.66 559.19L559.38 553.78L560.11 552.02L560.84 551.69L629.3 551.66" stroke="#ff5050" stroke-width="1.1" fill="none" stroke-linejoin="round"/>
<path d="M374.4 738.3L541.91 738.06L544.09 737.66L545.55 737.05L547 735.87L547.73 734.91L548.46 733.59L549.19 731.76L549.92 729.24L550.65 725.77L551.37 721.05L552.1 714.68L552.83 706.18L553.56 695.05L555.01 663.36L557.93 578.28L558.66 563.98L559.38 555.87L560.11 552.6L560.84 551.78L629.3 551.66" stroke="#4040ff" stroke-width="1.3" fill="none" stroke-linejoin="round"/>
<path d="M374.4 738.3L541.91 738.08L544.09 737.71L545.55 737.15L547 736.06L547.73 735.18L548.46 733.96L549.19 732.27L549.92 729.94L550.65 726.74L551.37 722.37L552.1 716.45L552.83 708.53L553.56 698.11L555.01 668.04L557.93 582.76L558.66 566.97L559.38 557.35L560.11 553.09L560.84 551.87L561.57 551.68L629.3 551.66" stroke="#3cb371" stroke-width="1.7" fill="none" stroke-linejoin="round"/>
<rect x="441.85" y="735.65" width="5.3" height="5.3" fill="#fff" stroke="#474747" stroke-width="1.1"/><rect x="449.75" y="735.65" width="5.3" height="5.3" fill="#fff" stroke="#474747" stroke-width="1.1"/><rect x="457.65" y="735.65" width="5.3" height="5.3" fill="#fff" stroke="#474747" stroke-width="1.1"/><rect x="465.55" y="735.65" width="5.3" height="5.3" fill="#fff" stroke="#474747" stroke-width="1.1"/><rect x="473.45" y="735.65" width="5.3" height="5.3" fill="#fff" stroke="#474747" stroke-width="1.1"/><rect x="481.35" y="735.65" width="5.3" height="5.3" fill="#fff" stroke="#474747" stroke-width="1.1"/><rect x="489.25" y="735.65" width="5.3" height="5.3" fill="#fff" stroke="#474747" stroke-width="1.1"/><rect x="497.15" y="735.65" width="5.3" height="5.3" fill="#fff" stroke="#474747" stroke-width="1.1"/><rect x="528.45" y="698.32" width="5.3" height="5.3" fill="#fff" stroke="#474747" stroke-width="1.1"/><rect x="552.25" y="621.24" width="5.3" height="5.3" fill="#fff" stroke="#474747" stroke-width="1.1"/><rect x="567.95" y="572.16" width="5.3" height="5.3" fill="#fff" stroke="#474747" stroke-width="1.1"/><rect x="591.25" y="553.49" width="5.3" height="5.3" fill="#fff" stroke="#474747" stroke-width="1.1"/><rect x="622.65" y="549.01" width="5.3" height="5.3" fill="#fff" stroke="#474747" stroke-width="1.1"/>
<circle cx="508.7" cy="738.3" r="3.45" fill="#ff0000"/><circle cx="518.9" cy="738.3" r="3.45" fill="#ff0000"/><circle cx="537.8" cy="738.3" r="3.45" fill="#ff0000"/><circle cx="562.4" cy="551.66" r="3.45" fill="#ff0000"/>
<path d="M502.3 734.3L506.25 741L498.35 741Z" fill="#0000ff"/><path d="M512.5 734.3L516.45 741L508.55 741Z" fill="#0000ff"/><path d="M531.1 734.3L535.05 741L527.15 741Z" fill="#0000ff"/><path d="M551.8 708.17L555.75 714.87L547.85 714.87Z" fill="#0000ff"/><path d="M571.2 547.66L575.15 554.36L567.25 554.36Z" fill="#0000ff"/><path d="M600.8 547.66L604.75 554.36L596.85 554.36Z" fill="#0000ff"/><path d="M620.7 547.66L624.65 554.36L616.75 554.36Z" fill="#0000ff"/>
<path d="M478.2 734.1L482.25 738.3L478.2 742.5L474.15 738.3Z" fill="#00ff00"/><path d="M490.9 734.1L494.95 738.3L490.9 742.5L486.85 738.3Z" fill="#00ff00"/><path d="M504.2 734.1L508.25 738.3L504.2 742.5L500.15 738.3Z" fill="#00ff00"/><path d="M517.3 734.1L521.35 738.3L517.3 742.5L513.25 738.3Z" fill="#00ff00"/><path d="M531.1 734.1L535.15 738.3L531.1 742.5L527.05 738.3Z" fill="#00ff00"/><path d="M543.3 734.1L547.35 738.3L543.3 742.5L539.25 738.3Z" fill="#00ff00"/><path d="M556.1 627.53L560.15 631.73L556.1 635.93L552.05 631.73Z" fill="#00ff00"/><path d="M582.5 547.46L586.55 551.66L582.5 555.86L578.45 551.66Z" fill="#00ff00"/><path d="M608.5 547.46L612.55 551.66L608.5 555.86L604.45 551.66Z" fill="#00ff00"/>
</g>
<rect x="374.4" y="533" width="254.9" height="205.3" fill="none" stroke="#505050" stroke-width="1.15"/>
<path d="M370.4 738.3H374.4M625.3 738.3H629.3M370.4 700.97H374.4M625.3 700.97H629.3M370.4 663.65H374.4M625.3 663.65H629.3M370.4 626.32H374.4M625.3 626.32H629.3M370.4 588.99H374.4M625.3 588.99H629.3M370.4 551.66H374.4M625.3 551.66H629.3M372.4 719.64H374.4M627.3 719.64H629.3M372.4 682.31H374.4M627.3 682.31H629.3M372.4 644.98H374.4M627.3 644.98H629.3M372.4 607.65H374.4M627.3 607.65H629.3M372.4 570.33H374.4M627.3 570.33H629.3M374.4 738.3V742.3M374.4 533V536.5M465.44 738.3V742.3M465.44 533V536.5M556.47 738.3V742.3M556.47 533V536.5M392.61 738.3V740.3M392.61 533V535M410.81 738.3V740.3M410.81 533V535M429.02 738.3V740.3M429.02 533V535M447.23 738.3V740.3M447.23 533V535M483.64 738.3V740.3M483.64 533V535M501.85 738.3V740.3M501.85 533V535M520.06 738.3V740.3M520.06 533V535M538.26 738.3V740.3M538.26 533V535M574.68 738.3V740.3M574.68 533V535M592.89 738.3V740.3M592.89 533V535M611.09 738.3V740.3M611.09 533V535" stroke="#505050" stroke-width="1.1" fill="none"/>
<text x="351" y="742.6" font-size="12.8" textLength="15.92" lengthAdjust="spacingAndGlyphs" style="">0.0</text>
<text x="351" y="705.27" font-size="12.8" textLength="15.92" lengthAdjust="spacingAndGlyphs" style="">0.2</text>
<text x="351" y="667.95" font-size="12.8" textLength="15.92" lengthAdjust="spacingAndGlyphs" style="">0.4</text>
<text x="351" y="630.62" font-size="12.8" textLength="15.92" lengthAdjust="spacingAndGlyphs" style="">0.6</text>
<text x="351" y="593.29" font-size="12.8" textLength="15.92" lengthAdjust="spacingAndGlyphs" style="">0.8</text>
<text x="351.01" y="555.96" font-size="12.8" textLength="15.91" lengthAdjust="spacingAndGlyphs" style="">1.0</text>
<text x="366.6" y="756.9" font-size="12.8" textLength="15.42" lengthAdjust="spacingAndGlyphs" style="">0.0</text>
<text x="457.44" y="756.9" font-size="12.8" textLength="15.62" lengthAdjust="spacingAndGlyphs" style="">0.5</text>
<text x="548.41" y="756.9" font-size="12.8" textLength="15.39" lengthAdjust="spacingAndGlyphs" style="">1.0</text>
<text x="490" y="767.1" font-size="12.5" textLength="21.3" lengthAdjust="spacingAndGlyphs" style="font-style:italic">J/ J</text>
<text x="510" y="771" font-size="7.6" textLength="3.89" lengthAdjust="spacingAndGlyphs" style="">c</text>
<text transform="translate(346.5 0) rotate(-90)" x="-666.29" y="0" font-size="12.5" textLength="60.42" lengthAdjust="spacingAndGlyphs" style="">Probability</text>
<rect x="383" y="542.2" width="95.4" height="17.2" fill="#fff" stroke="#505050" stroke-width="1.1"/>
<text x="384.86" y="555" font-size="12.2" textLength="90.96" lengthAdjust="spacingAndGlyphs" style="">1 ns pulse width</text>
<rect x="179.8" y="89.2" width="110.8" height="117.7" fill="#fff" stroke="#505050" stroke-width="1.1"/>
<text x="182.13" y="102" font-size="11.7" textLength="97.01" lengthAdjust="spacingAndGlyphs" style="">10 ns pulse width</text>
<text x="182.3" y="115.8" font-size="11.7" textLength="41.37" lengthAdjust="spacingAndGlyphs" style="">Type−Y</text>
<text x="182.3" y="149.9" font-size="11.7" textLength="41.77" lengthAdjust="spacingAndGlyphs" style="">Type−X</text>
<path d="M182.2 127.6H191M200.2 127.6H209" stroke="#4a4a4a" stroke-width="1"/>
<rect x="192.95" y="124.95" width="5.3" height="5.3" fill="#fff" stroke="#474747" stroke-width="1.1"/>
<text x="213.9" y="131.7" font-size="11.7" textLength="7.42" lengthAdjust="spacingAndGlyphs" style="font-style:italic">H</text>
<text x="221.9" y="135.6" font-size="8.4" textLength="11.9" lengthAdjust="spacingAndGlyphs" style="">ext</text>
<text x="237.9" y="131.7" font-size="11.7" textLength="38.26" lengthAdjust="spacingAndGlyphs" style="">= 0 Oe</text>
<path d="M182.2 160.5H191M200.2 160.5H209" stroke="#ff4040" stroke-width="1"/>
<circle cx="195.6" cy="160.5" r="3.45" fill="#ff0000"/>
<text x="213.9" y="164.6" font-size="11.7" textLength="7.42" lengthAdjust="spacingAndGlyphs" style="font-style:italic">H</text>
<text x="221.9" y="168.9" font-size="8.4" textLength="3.98" lengthAdjust="spacingAndGlyphs" style="">z</text>
<text x="230" y="164.6" font-size="11.7" textLength="51.15" lengthAdjust="spacingAndGlyphs" style="">= 600 Oe</text>
<path d="M182.2 178.6H191M200.2 178.6H209" stroke="#4040ff" stroke-width="1"/>
<path d="M195.6 174.6L199.55 181.3L191.65 181.3Z" fill="#0000ff"/>
<text x="213.9" y="182.7" font-size="11.7" textLength="7.42" lengthAdjust="spacingAndGlyphs" style="font-style:italic">H</text>
<text x="221.9" y="187" font-size="8.4" textLength="3.98" lengthAdjust="spacingAndGlyphs" style="">z</text>
<text x="230" y="182.7" font-size="11.7" textLength="50.84" lengthAdjust="spacingAndGlyphs" style="">= 800 Oe</text>
<path d="M182.2 196.8H191M200.2 196.8H209" stroke="#50ff50" stroke-width="1"/>
<path d="M195.6 192.6L199.65 196.8L195.6 201L191.55 196.8Z" fill="#00ff00"/>
<text x="213.9" y="200.9" font-size="11.7" textLength="7.42" lengthAdjust="spacingAndGlyphs" style="font-style:italic">H</text>
<text x="221.9" y="205.2" font-size="8.4" textLength="3.98" lengthAdjust="spacingAndGlyphs" style="">z</text>
<text x="230" y="200.9" font-size="11.7" textLength="57.62" lengthAdjust="spacingAndGlyphs" style="">= 1000 Oe</text>
<rect x="179.8" y="338.5" width="110.8" height="133.4" fill="#fff" stroke="#505050" stroke-width="1.1"/>
<text x="183.2" y="351.3" font-size="11.7" textLength="90.17" lengthAdjust="spacingAndGlyphs" style="">5 ns pulse width</text>
<text x="182.3" y="365.1" font-size="11.7" textLength="41.37" lengthAdjust="spacingAndGlyphs" style="">Type−Y</text>
<text x="182.3" y="413.6" font-size="11.7" textLength="41.77" lengthAdjust="spacingAndGlyphs" style="">Type−X</text>
<path d="M182.2 376.9H191M200.2 376.9H209" stroke="#4a4a4a" stroke-width="1"/>
<rect x="192.95" y="374.25" width="5.3" height="5.3" fill="#fff" stroke="#474747" stroke-width="1.1"/>
<text x="213.9" y="381" font-size="11.7" textLength="7.42" lengthAdjust="spacingAndGlyphs" style="font-style:italic">H</text>
<text x="221.9" y="384.9" font-size="8.4" textLength="11.9" lengthAdjust="spacingAndGlyphs" style="">ext</text>
<text x="237.9" y="381" font-size="11.7" textLength="38.26" lengthAdjust="spacingAndGlyphs" style="">= 0 Oe</text>
<path d="M182.2 424.2H191M200.2 424.2H209" stroke="#ff4040" stroke-width="1"/>
<circle cx="195.6" cy="424.2" r="3.45" fill="#ff0000"/>
<text x="213.9" y="428.3" font-size="11.7" textLength="7.42" lengthAdjust="spacingAndGlyphs" style="font-style:italic">H</text>
<text x="221.9" y="432.6" font-size="8.4" textLength="3.98" lengthAdjust="spacingAndGlyphs" style="">z</text>
<text x="230" y="428.3" font-size="11.7" textLength="51.15" lengthAdjust="spacingAndGlyphs" style="">= 600 Oe</text>
<path d="M182.2 442.3H191M200.2 442.3H209" stroke="#4040ff" stroke-width="1"/>
<path d="M195.6 438.3L199.55 445L191.65 445Z" fill="#0000ff"/>
<text x="213.9" y="446.4" font-size="11.7" textLength="7.42" lengthAdjust="spacingAndGlyphs" style="font-style:italic">H</text>
<text x="221.9" y="450.7" font-size="8.4" textLength="3.98" lengthAdjust="spacingAndGlyphs" style="">z</text>
<text x="230" y="446.4" font-size="11.7" textLength="50.84" lengthAdjust="spacingAndGlyphs" style="">= 800 Oe</text>
<path d="M182.2 460.5H191M200.2 460.5H209" stroke="#50ff50" stroke-width="1"/>
<path d="M195.6 456.3L199.65 460.5L195.6 464.7L191.55 460.5Z" fill="#00ff00"/>
<text x="213.9" y="464.6" font-size="11.7" textLength="7.42" lengthAdjust="spacingAndGlyphs" style="font-style:italic">H</text>
<text x="221.9" y="468.9" font-size="8.4" textLength="3.98" lengthAdjust="spacingAndGlyphs" style="">z</text>
<text x="230" y="464.6" font-size="11.7" textLength="57.62" lengthAdjust="spacingAndGlyphs" style="">= 1000 Oe</text>
<rect x="42.9" y="536.1" width="111.4" height="117.7" fill="#fff" stroke="#505050" stroke-width="1.1"/>
<text x="45.22" y="548.9" font-size="11.7" textLength="90.87" lengthAdjust="spacingAndGlyphs" style="">1 ns pulse width</text>
<text x="45.4" y="562.7" font-size="11.7" textLength="41.37" lengthAdjust="spacingAndGlyphs" style="">Type−Y</text>
<text x="45.4" y="596.8" font-size="11.7" textLength="41.77" lengthAdjust="spacingAndGlyphs" style="">Type−X</text>
<path d="M45.3 574.5H54.1M63.3 574.5H72.1" stroke="#4a4a4a" stroke-width="1"/>
<rect x="56.05" y="571.85" width="5.3" height="5.3" fill="#fff" stroke="#474747" stroke-width="1.1"/>
<text x="77" y="578.6" font-size="11.7" textLength="7.42" lengthAdjust="spacingAndGlyphs" style="font-style:italic">H</text>
<text x="85" y="582.5" font-size="8.4" textLength="11.9" lengthAdjust="spacingAndGlyphs" style="">ext</text>
<text x="101" y="578.6" font-size="11.7" textLength="38.26" lengthAdjust="spacingAndGlyphs" style="">= 0 Oe</text>
<path d="M45.3 607.4H54.1M63.3 607.4H72.1" stroke="#ff4040" stroke-width="1"/>
<circle cx="58.7" cy="607.4" r="3.45" fill="#ff0000"/>
<text x="77" y="611.5" font-size="11.7" textLength="7.42" lengthAdjust="spacingAndGlyphs" style="font-style:italic">H</text>
<text x="85" y="615.8" font-size="8.4" textLength="3.98" lengthAdjust="spacingAndGlyphs" style="">z</text>
<text x="93.1" y="611.5" font-size="11.7" textLength="51.15" lengthAdjust="spacingAndGlyphs" style="">= 600 Oe</text>
<path d="M45.3 625.5H54.1M63.3 625.5H72.1" stroke="#4040ff" stroke-width="1"/>
<path d="M58.7 621.5L62.65 628.2L54.75 628.2Z" fill="#0000ff"/>
<text x="77" y="629.6" font-size="11.7" textLength="7.42" lengthAdjust="spacingAndGlyphs" style="font-style:italic">H</text>
<text x="85" y="633.9" font-size="8.4" textLength="3.98" lengthAdjust="spacingAndGlyphs" style="">z</text>
<text x="93.1" y="629.6" font-size="11.7" textLength="50.84" lengthAdjust="spacingAndGlyphs" style="">= 800 Oe</text>
<path d="M45.3 643.7H54.1M63.3 643.7H72.1" stroke="#50ff50" stroke-width="1"/>
<path d="M58.7 639.5L62.75 643.7L58.7 647.9L54.65 643.7Z" fill="#00ff00"/>
<text x="77" y="647.8" font-size="11.7" textLength="7.42" lengthAdjust="spacingAndGlyphs" style="font-style:italic">H</text>
<text x="85" y="652.1" font-size="8.4" textLength="3.98" lengthAdjust="spacingAndGlyphs" style="">z</text>
<text x="93.1" y="647.8" font-size="11.7" textLength="57.62" lengthAdjust="spacingAndGlyphs" style="">= 1000 Oe</text>
<text x="-0.4" y="10.3" text-anchor="start" font-size="12" style="">(a)</text>
<text x="-0.4" y="265.4" text-anchor="start" font-size="12" style="">(b)</text>
<text x="-0.4" y="531.9" text-anchor="start" font-size="12" style="">(c)</text>
<text x="347.4" y="10.1" text-anchor="end" font-size="12" style="">(d)</text>
<text x="347.4" y="265.3" text-anchor="end" font-size="12" style="">(e)</text>
<text x="347.4" y="531.9" text-anchor="end" font-size="12" style="">(f)</text>
</svg></body></html>
